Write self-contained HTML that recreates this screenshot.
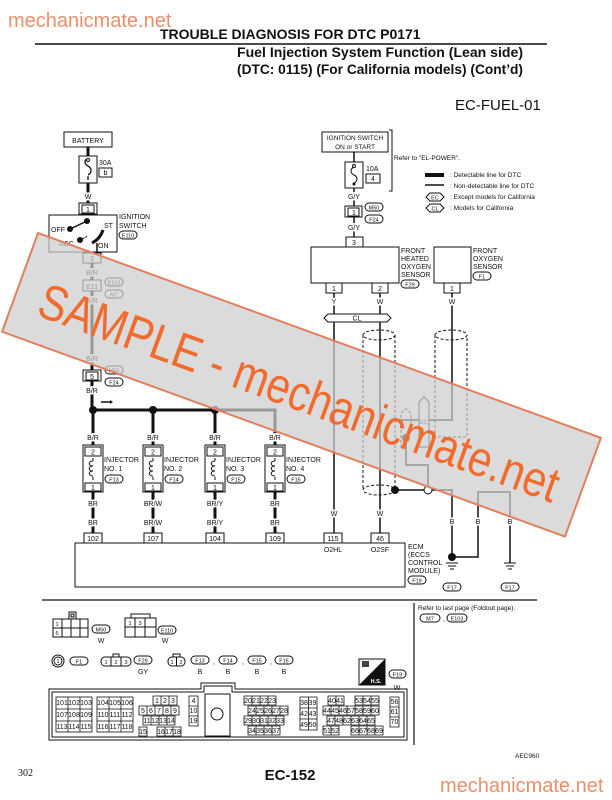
<!DOCTYPE html>
<html><head><meta charset="utf-8"><style>
html,body{margin:0;padding:0;background:#fff}
svg{display:block}
text{font-family:"Liberation Sans",sans-serif;font-size:7px;fill:#111}
.l{stroke:#fff;stroke-width:3;paint-order:stroke}
.c{text-anchor:middle}
.s{font-size:5.5px}
.k{stroke:#111;fill:none}
.th{stroke:#111;stroke-width:3;fill:none}
.tn{stroke:#111;stroke-width:1.5;fill:none}
.d{stroke:#111;stroke-width:1;fill:none;stroke-dasharray:3 2}
.b{fill:#fff;stroke:#111;stroke-width:1}
</style></head><body>
<svg width="612" height="800" viewBox="0 0 612 800" xmlns="http://www.w3.org/2000/svg">
<rect width="612" height="800" fill="#fff"/>
<!-- header -->
<text x="8" y="27" style="font-size:20px;fill:#e8906a">mechanicmate.net</text>
<text x="160" y="39" style="font-size:14px;font-weight:bold">TROUBLE DIAGNOSIS FOR DTC P0171</text>
<line x1="35" y1="44" x2="547" y2="44" stroke="#111" stroke-width="1.5"/>
<text x="237" y="57" textLength="286" lengthAdjust="spacingAndGlyphs" style="font-size:14px;font-weight:bold">Fuel Injection System Function (Lean side)</text>
<text x="237" y="74" textLength="286" lengthAdjust="spacingAndGlyphs" style="font-size:14px;font-weight:bold">(DTC: 0115) (For California models) (Cont’d)</text>
<text x="455" y="110" style="font-size:15px">EC-FUEL-01</text>

<!-- left column -->
<rect x="64" y="132" width="48" height="15" class="b"/>
<text x="88" y="143" class="c">BATTERY</text>
<path d="M88,147V156M88,183V204" class="th"/>
<rect x="79" y="156" width="18" height="27" class="b"/>
<path d="M88,159 c-4,0 -4,5 0,7 c4,2 4,7 0,9 M88,176v4" class="k" stroke-width="1.3"/>
<circle cx="88" cy="160" r="1.5" class="b"/>
<text x="99" y="165">30A</text>
<rect x="99" y="168" width="13" height="9" class="b"/><text x="105.5" y="175" class="c">b</text>
<text x="88" y="199" class="c l">W</text>
<rect x="79" y="203" width="18" height="11" class="b"/><rect x="82" y="205" width="12" height="8" class="b"/><text x="88" y="212" class="c">1</text>
<rect x="49" y="215" width="68" height="37" class="b"/>
<circle cx="87" cy="221" r="3" fill="#111"/>
<path d="M87,221L70,229" class="tn"/>
<circle cx="70" cy="229" r="3" fill="#111"/>
<circle cx="80" cy="240" r="3" fill="#111"/>
<path d="M80,240L88,236" class="k" stroke-dasharray="2 1"/>
<path d="M103,230 Q100,239 92,243" class="th"/>
<path d="M97,243V253" class="tn"/>
<text x="51" y="232">OFF</text><text x="104" y="228">ST</text>
<text x="59" y="246">ACC</text><text x="98" y="248">ON</text>
<text x="119" y="219">IGNITION</text><text x="119" y="228">SWITCH</text>
<rect x="119" y="231" width="18" height="8" rx="4" class="b"/><text x="128" y="237.5" class="c s">E110</text>
<rect x="83" y="253" width="18" height="10" class="b"/><text x="92" y="261" class="c">3</text>
<path d="M92,263V280M92,291V370M92,381V410" class="th"/>
<text x="92" y="275" class="c l">B/R</text>
<rect x="83" y="280" width="18" height="11" class="b"/><text x="92" y="289" class="c">E11</text>
<rect x="105" y="278" width="18" height="8" rx="4" class="b"/><text x="114" y="284.5" class="c s">E103</text>
<rect x="105" y="290" width="18" height="8" rx="4" class="b"/><text x="114" y="296.5" class="c s">M7</text>
<text x="92" y="303" class="c l">B/R</text>
<text x="92" y="361" class="c l">B/R</text>
<rect x="83" y="370" width="18" height="11" class="b"/><rect x="86" y="372" width="12" height="8" class="b"/><text x="92" y="379" class="c">5</text>
<rect x="105" y="366" width="18" height="8" rx="4" class="b"/><text x="114" y="372.5" class="c s">M50</text>
<rect x="105" y="378" width="18" height="8" rx="4" class="b"/><text x="114" y="384.5" class="c s">F24</text>
<text x="92" y="393" class="c l">B/R</text>
<path d="M101,402h9" class="tn"/><path d="M110,400l3,2l-3,2z" fill="#111"/>
<!-- bus -->
<path d="M93,410H275V445" class="th"/>
<circle cx="93" cy="410" r="4" fill="#111"/><circle cx="153" cy="410" r="4" fill="#111"/><circle cx="215" cy="410" r="4" fill="#111"/>
<!-- injectors -->
<g>
<path d="M93,410V445M93,492V533" class="th"/>
<text x="93" y="440" class="c l">B/R</text>
<rect x="83" y="445" width="20" height="47" class="b"/>
<rect x="85" y="447" width="16" height="9" class="b"/><text x="93" y="454.5" class="c">2</text>
<path d="M93,458v3 M93,480v-3 M93,461c-5,0 -5,5 0,5 c-5,0 -5,5 0,5 c-5,0 -5,5 0,5" class="k"/>
<rect x="85" y="483" width="16" height="8" class="b"/><text x="93" y="490" class="c">1</text>
<text x="93" y="506" class="c l">BR</text><text x="93" y="525" class="c l">BR</text>
<rect x="84" y="533" width="18" height="10" class="b"/><text x="93" y="541" class="c">102</text>
<text x="93" y="552" class="c">INJ#1</text>
<text x="104" y="462">INJECTOR</text><text x="104" y="471">NO. 1</text>
<rect x="105" y="475" width="18" height="8" rx="4" class="b"/><text x="114" y="481.5" class="c s">F13</text>
</g>
<g transform="translate(60,0)">
<path d="M93,410V445M93,492V533" class="th"/>
<text x="93" y="440" class="c l">B/R</text>
<rect x="83" y="445" width="20" height="47" class="b"/>
<rect x="85" y="447" width="16" height="9" class="b"/><text x="93" y="454.5" class="c">2</text>
<path d="M93,458v3 M93,480v-3 M93,461c-5,0 -5,5 0,5 c-5,0 -5,5 0,5 c-5,0 -5,5 0,5" class="k"/>
<rect x="85" y="483" width="16" height="8" class="b"/><text x="93" y="490" class="c">1</text>
<text x="93" y="506" class="c l">BR/W</text><text x="93" y="525" class="c l">BR/W</text>
<rect x="84" y="533" width="18" height="10" class="b"/><text x="93" y="541" class="c">107</text>
<text x="93" y="552" class="c">INJ#2</text>
<text x="104" y="462">INJECTOR</text><text x="104" y="471">NO. 2</text>
<rect x="105" y="475" width="18" height="8" rx="4" class="b"/><text x="114" y="481.5" class="c s">F14</text>
</g>
<g transform="translate(122,0)">
<path d="M93,410V445M93,492V533" class="th"/>
<text x="93" y="440" class="c l">B/R</text>
<rect x="83" y="445" width="20" height="47" class="b"/>
<rect x="85" y="447" width="16" height="9" class="b"/><text x="93" y="454.5" class="c">2</text>
<path d="M93,458v3 M93,480v-3 M93,461c-5,0 -5,5 0,5 c-5,0 -5,5 0,5 c-5,0 -5,5 0,5" class="k"/>
<rect x="85" y="483" width="16" height="8" class="b"/><text x="93" y="490" class="c">1</text>
<text x="93" y="506" class="c l">BR/Y</text><text x="93" y="525" class="c l">BR/Y</text>
<rect x="84" y="533" width="18" height="10" class="b"/><text x="93" y="541" class="c">104</text>
<text x="93" y="552" class="c">INJ#3</text>
<text x="104" y="462">INJECTOR</text><text x="104" y="471">NO. 3</text>
<rect x="105" y="475" width="18" height="8" rx="4" class="b"/><text x="114" y="481.5" class="c s">F15</text>
</g>
<g transform="translate(182,0)">
<path d="M93,492V533" class="th"/>
<text x="93" y="440" class="c l">B/R</text>
<rect x="83" y="445" width="20" height="47" class="b"/>
<rect x="85" y="447" width="16" height="9" class="b"/><text x="93" y="454.5" class="c">2</text>
<path d="M93,458v3 M93,480v-3 M93,461c-5,0 -5,5 0,5 c-5,0 -5,5 0,5 c-5,0 -5,5 0,5" class="k"/>
<rect x="85" y="483" width="16" height="8" class="b"/><text x="93" y="490" class="c">1</text>
<text x="93" y="506" class="c l">BR</text><text x="93" y="525" class="c l">BR</text>
<rect x="84" y="533" width="18" height="10" class="b"/><text x="93" y="541" class="c">109</text>
<text x="93" y="552" class="c">INJ#4</text>
<text x="104" y="462">INJECTOR</text><text x="104" y="471">NO. 4</text>
<rect x="105" y="475" width="18" height="8" rx="4" class="b"/><text x="114" y="481.5" class="c s">F16</text>
</g>
<!-- ECM -->
<rect x="75" y="543" width="330" height="44" class="b"/>
<rect x="324" y="533" width="18" height="10" class="b"/><text x="333" y="541" class="c">115</text>
<rect x="371" y="533" width="18" height="10" class="b"/><text x="380" y="541" class="c">46</text>
<text x="333" y="552" class="c">O2HL</text><text x="380" y="552" class="c">O2SF</text>
<text x="408" y="549">ECM</text><text x="408" y="557">(ECCS</text><text x="408" y="565">CONTROL</text><text x="408" y="573">MODULE)</text>
<rect x="408" y="576" width="18" height="8" rx="4" class="b"/><text x="417" y="582.5" class="c s">F19</text>

<!-- right top -->
<rect x="322" y="132" width="66" height="20" class="b"/>
<text x="355" y="140" class="c" style="font-size:6.5px">IGNITION SWITCH</text>
<text x="355" y="149" class="c" style="font-size:6.5px">ON or START</text>
<path d="M389,130h3V191h-3" class="k"/>
<text x="394" y="160" style="font-size:6.5px">Refer to "EL-POWER".</text>
<path d="M354,152V162M354,188V206" class="tn"/>
<rect x="345" y="162" width="18" height="26" class="b"/>
<path d="M354,167 c-4,2 -4,6 0,8 c4,2 4,6 0,8" class="k"/>
<circle cx="354" cy="166" r="1.5" class="b"/><circle cx="354" cy="184" r="1.5" fill="#111"/>
<text x="366" y="171">10A</text>
<rect x="366" y="174" width="14" height="9" class="b"/><text x="373" y="181" class="c">4</text>
<text x="354" y="199" class="c l">G/Y</text>
<rect x="345" y="206" width="17" height="11" class="b"/><rect x="348" y="208" width="11" height="8" class="b"/><text x="354" y="215" class="c">1</text>
<rect x="365" y="203" width="18" height="8" rx="4" class="b"/><text x="374" y="209.5" class="c s">M50</text>
<rect x="365" y="215" width="18" height="8" rx="4" class="b"/><text x="374" y="221.5" class="c s">F24</text>
<path d="M354,217V237" class="tn"/>
<text x="354" y="230" class="c l">G/Y</text>
<rect x="346" y="237" width="17" height="10" class="b"/><text x="354" y="245" class="c">3</text>
<!-- legend -->
<rect x="425" y="173" width="19" height="4" fill="#111"/>
<line x1="425" y1="185" x2="444" y2="185" stroke="#111" stroke-width="1.5"/>
<path d="M426,197l4,-4h10l4,4l-4,4h-10z" class="b"/><text x="435" y="199.5" class="c s">EC</text>
<path d="M426,208l4,-4h10l4,4l-4,4h-10z" class="b"/><text x="435" y="210.5" class="c s">CL</text>
<text x="450" y="177" style="font-size:6.5px">: Detectable line for DTC</text>
<text x="450" y="188" style="font-size:6.5px">: Non-detectable line for DTC</text>
<text x="450" y="199" style="font-size:6.5px">: Except models for California</text>
<text x="450" y="210" style="font-size:6.5px">: Models for California</text>
<!-- sensors -->
<rect x="311" y="247" width="88" height="36" class="b"/>
<text x="401" y="253">FRONT</text><text x="401" y="261">HEATED</text><text x="401" y="269">OXYGEN</text><text x="401" y="277">SENSOR</text>
<rect x="401" y="280" width="18" height="8" rx="4" class="b"/><text x="410" y="286.5" class="c s">F29</text>
<rect x="434" y="247" width="37" height="36" class="b"/>
<text x="473" y="253">FRONT</text><text x="473" y="261">OXYGEN</text><text x="473" y="269">SENSOR</text>
<rect x="473" y="272" width="18" height="8" rx="4" class="b"/><text x="482" y="278.5" class="c s">F1</text>
<rect x="326" y="283" width="16" height="10" class="b"/><text x="334" y="291" class="c">1</text>
<rect x="372" y="283" width="16" height="10" class="b"/><text x="380" y="291" class="c">2</text>
<rect x="444" y="283" width="16" height="10" class="b"/><text x="452" y="291" class="c">1</text>
<path d="M334,293V533M380,293V533" class="tn"/>
<path d="M452,293V420H400" class="tn"/>
<text x="334" y="304" class="c l">Y</text><text x="380" y="304" class="c l">W</text><text x="452" y="304" class="c l">W</text>
<path d="M324,318l4,-4h59l4,4l-4,4h-59z" class="b"/><text x="357" y="320.5" class="c">CL</text>
<text x="334" y="516" class="c l">W</text><text x="380" y="516" class="c l">W</text>
<!-- shields -->
<ellipse cx="379" cy="335" rx="16" ry="5" class="d"/><path d="M363,335V490M395,335V490" class="d"/><ellipse cx="379" cy="490" rx="16" ry="5" class="d"/>
<ellipse cx="451" cy="335" rx="16" ry="5" class="d"/><path d="M435,335V437H467V335" class="d"/>
<path d="M419,402l5,-5l5,5v45h-10z" class="b"/><text x="424" y="424" class="c s">EC</text>
<path d="M401,448V414Q406,404 411,414V430" class="d"/>
<circle cx="406" cy="438" r="4" fill="#111"/>
<path d="M406,438V465H428V486" class="tn"/>
<circle cx="395" cy="490" r="4" fill="#111"/>
<path d="M395,490H424M432,490H452V560M452,557H478V492H510V563" class="tn"/>
<circle cx="428" cy="490" r="4" class="b"/>
<circle cx="452" cy="557" r="4" fill="#111"/>
<text x="452" y="524" class="c l">B</text><text x="478" y="524" class="c l">B</text><text x="510" y="524" class="c l">B</text>
<path d="M446,563h12M448,566h8M450,569h4M504,563h12M506,566h8M508,569h4" class="k"/>
<rect x="443" y="583" width="18" height="8" rx="4" class="b"/><text x="452" y="589.5" class="c s">F17</text>
<rect x="501" y="583" width="18" height="8" rx="4" class="b"/><text x="510" y="589.5" class="c s">F17</text>

<!-- bottom -->
<line x1="42" y1="600" x2="537" y2="600" stroke="#111" stroke-width="1.2"/>
<line x1="414" y1="603" x2="414" y2="745" stroke="#111" stroke-width="1.2"/>
<text x="418" y="610" style="font-size:6.5px">Refer to last page (Foldout page).</text>
<rect x="420" y="614" width="20" height="8" rx="4" class="b"/><text x="430" y="620.5" class="c s">M7</text>
<text x="443" y="621">,</text>
<rect x="447" y="614" width="20" height="8" rx="4" class="b"/><text x="457" y="620.5" class="c s">E103</text>
<!-- M50 grid -->
<rect x="69" y="612" width="7" height="7" class="b"/><rect x="71" y="614" width="3" height="3" class="b"/>
<path d="M53,619H88V637H53Z M53,628H88 M62,619V637 M71,619V637 M80,619V637" class="k"/>
<text x="57" y="626" class="c s">1</text><text x="57" y="635" class="c s">5</text>
<rect x="92" y="625" width="18" height="8" rx="4" class="b"/><text x="101" y="631.5" class="c s">M50</text>
<text x="101" y="643" class="c">W</text>
<path d="M125,618H156V637H125Z M125,627H156 M135,618V637 M145,618V637 M131,618V614H150V618" class="k"/>
<text x="130" y="625" class="c s">1</text><text x="140" y="625" class="c s">3</text>
<rect x="158" y="626" width="18" height="8" rx="4" class="b"/><text x="167" y="632.5" class="c s">E110</text>
<text x="165" y="643" class="c">W</text>
<!-- row -->
<circle cx="58" cy="661" r="6" class="b"/><circle cx="58" cy="661" r="4" class="b"/><text x="58" y="663" class="c s">1</text>
<rect x="70" y="657" width="18" height="8" rx="4" class="b"/><text x="79" y="663.5" class="c s">F1</text>
<rect x="101" y="657" width="30" height="9" rx="4" class="b"/><path d="M111,657v9M121,657v9M113,657v-3h6v3" class="k"/>
<text x="106" y="664" class="c s">1</text><text x="116" y="664" class="c s">2</text><text x="126" y="664" class="c s">3</text>
<rect x="134" y="656" width="18" height="8" rx="4" class="b"/><text x="143" y="662.5" class="c s">F29</text>
<text x="143" y="674" class="c">GY</text>
<rect x="168" y="657" width="17" height="9" rx="4" class="b"/><path d="M176.5,657v9M173,657v-3h7v3" class="k"/>
<text x="172" y="664" class="c s">1</text><text x="181" y="664" class="c s">2</text>
<rect x="191" y="656" width="18" height="8" rx="4" class="b"/><text x="200" y="662.5" class="c s">F13</text>
<rect x="219" y="656" width="18" height="8" rx="4" class="b"/><text x="228" y="662.5" class="c s">F14</text>
<rect x="248" y="656" width="18" height="8" rx="4" class="b"/><text x="257" y="662.5" class="c s">F15</text>
<rect x="275" y="656" width="18" height="8" rx="4" class="b"/><text x="284" y="662.5" class="c s">F16</text>
<text x="213" y="664">,</text><text x="242" y="664">,</text><text x="270" y="664">,</text>
<text x="200" y="674" class="c">B</text><text x="228" y="674" class="c">B</text><text x="257" y="674" class="c">B</text><text x="284" y="674" class="c">B</text>
<rect x="359" y="659" width="26" height="26" class="b"/><path d="M385,659V685H359Z" fill="#111"/>
<rect x="362" y="661" width="7" height="6" fill="#444"/>
<text x="376" y="683" class="c s" style="fill:#fff;font-weight:bold">H.S.</text>
<rect x="389" y="670" width="17" height="8" rx="4" class="b"/><text x="397.5" y="676.5" class="c s">F19</text>
<text x="397" y="690" class="c">W</text>
<!-- ECM connector -->
<path d="M49,689H201V683H235V689H407V740H49Z" class="k"/>
<path d="M52,692H204V686H232V692H404V737H52Z" class="k"/>
<rect x="205" y="694" width="25" height="42" class="b"/><circle cx="217" cy="714" r="6" class="b"/>
<g class="k" stroke-width="0.8">
<rect x="56" y="697" width="36" height="35"/><path d="M68,697V732M80,697V732M56,709H92M56,721H92"/>
<rect x="97" y="697" width="36" height="35"/><path d="M109,697V732M121,697V732M97,709H133M97,721H133"/>
</g>
<g class="s c">
<text x="62" y="705">101</text><text x="74" y="705">102</text><text x="86" y="705">103</text>
<text x="62" y="717">107</text><text x="74" y="717">108</text><text x="86" y="717">109</text>
<text x="62" y="729">113</text><text x="74" y="729">114</text><text x="86" y="729">115</text>
<text x="103" y="705">104</text><text x="115" y="705">105</text><text x="127" y="705">106</text>
<text x="103" y="717">110</text><text x="115" y="717">111</text><text x="127" y="717">112</text>
<text x="103" y="729">116</text><text x="115" y="729">117</text><text x="127" y="729">118</text>
</g>
<g fill="none" stroke="#111" stroke-width="0.8">
<path d="M153,696h24v9h-24zM161,696v9M169,696v9"/>
<path d="M139,706h40v9h-40zM147,706v9M155,706v9M163,706v9M171,706v9"/>
<path d="M143,716h32v9h-32zM151,716v9M159,716v9M167,716v9"/>
<path d="M139,727h8v9h-8zM157,727h24v9h-24zM165,727v9M173,727v9"/>
<path d="M189,696h9v30h-9zM189,706h9M189,716h9"/>
<path d="M244,696h32v9h-32zM252,696v9M260,696v9M268,696v9"/>
<path d="M248,706h40v9h-40zM256,706v9M264,706v9M272,706v9M280,706v9"/>
<path d="M244,716h40v9h-40zM252,716v9M260,716v9M268,716v9M276,716v9"/>
<path d="M248,726h32v9h-32zM256,726v9M264,726v9M272,726v9"/>
<path d="M300,697h17v33h-17zM308.5,697v33M300,708h17M300,719h17"/>
<path d="M328,696h16v9h-16zM336,696v9M355,696h24v9h-24zM363,696v9M371,696v9"/>
<path d="M323,706h56v9h-56zM331,706v9M339,706v9M347,706v9M355,706v9M363,706v9M371,706v9"/>
<path d="M327,716h48v9h-48zM335,716v9M343,716v9M351,716v9M359,716v9M367,716v9"/>
<path d="M323,726h16v9h-16zM331,726v9M351,726h32v9h-32zM359,726v9M367,726v9M375,726v9"/>
<path d="M390,697h9v30h-9zM390,707h9M390,717h9"/>
</g>
<g class="c" style="font-size:5px">
<text x="157" y="703">1</text><text x="165" y="703">2</text><text x="173" y="703">3</text>
<text x="143" y="713">5</text><text x="151" y="713">6</text><text x="159" y="713">7</text><text x="167" y="713">8</text><text x="175" y="713">9</text>
<text x="147" y="723">11</text><text x="155" y="723">12</text><text x="163" y="723">13</text><text x="171" y="723">14</text>
<text x="143" y="734">15</text><text x="161" y="734">16</text><text x="169" y="734">17</text><text x="177" y="734">18</text>
<text x="193.5" y="703">4</text><text x="193.5" y="713">10</text><text x="193.5" y="723">19</text>
<text x="248" y="703">20</text><text x="256" y="703">21</text><text x="264" y="703">22</text><text x="272" y="703">23</text>
<text x="252" y="713">24</text><text x="260" y="713">25</text><text x="268" y="713">26</text><text x="276" y="713">27</text><text x="284" y="713">28</text>
<text x="248" y="723">29</text><text x="256" y="723">30</text><text x="264" y="723">31</text><text x="272" y="723">32</text><text x="280" y="723">33</text>
<text x="252" y="733">34</text><text x="260" y="733">35</text><text x="268" y="733">36</text><text x="276" y="733">37</text>
<text x="304" y="705">38</text><text x="312.5" y="705">39</text><text x="304" y="716">42</text><text x="312.5" y="716">43</text><text x="304" y="727">49</text><text x="312.5" y="727">50</text>
<text x="332" y="703">40</text><text x="340" y="703">41</text><text x="359" y="703">53</text><text x="367" y="703">54</text><text x="375" y="703">55</text>
<text x="327" y="713">44</text><text x="335" y="713">45</text><text x="343" y="713">46</text><text x="351" y="713">57</text><text x="359" y="713">58</text><text x="367" y="713">59</text><text x="375" y="713">60</text>
<text x="331" y="723">47</text><text x="339" y="723">48</text><text x="347" y="723">62</text><text x="355" y="723">63</text><text x="363" y="723">64</text><text x="371" y="723">65</text>
<text x="327" y="733">51</text><text x="335" y="733">52</text><text x="355" y="733">66</text><text x="363" y="733">67</text><text x="371" y="733">68</text><text x="379" y="733">69</text>
<text x="394.5" y="704">56</text><text x="394.5" y="714">61</text><text x="394.5" y="724">70</text>
</g>
<!-- footer -->
<text x="515" y="758" style="font-size:6.5px">AEC960</text>
<text x="18" y="776" style="font-family:'Liberation Serif',serif;font-size:10px">302</text>
<text x="290" y="780" class="c" style="font-size:15px;font-weight:bold">EC-152</text>
<text x="440" y="792" style="font-size:20px;fill:#e8906a">mechanicmate.net</text>

<!-- watermark -->
<g transform="translate(38,233) rotate(20)">
<rect x="0" y="0" width="599" height="105" fill="#cdcdcd" fill-opacity="0.72" stroke="#e0805c" stroke-width="2"/>
<text x="25" y="78" textLength="550" lengthAdjust="spacingAndGlyphs" style="font-size:50px;fill:#f26b2c">SAMPLE - mechanicmate.net</text>
</g>
</svg>
</body></html>
